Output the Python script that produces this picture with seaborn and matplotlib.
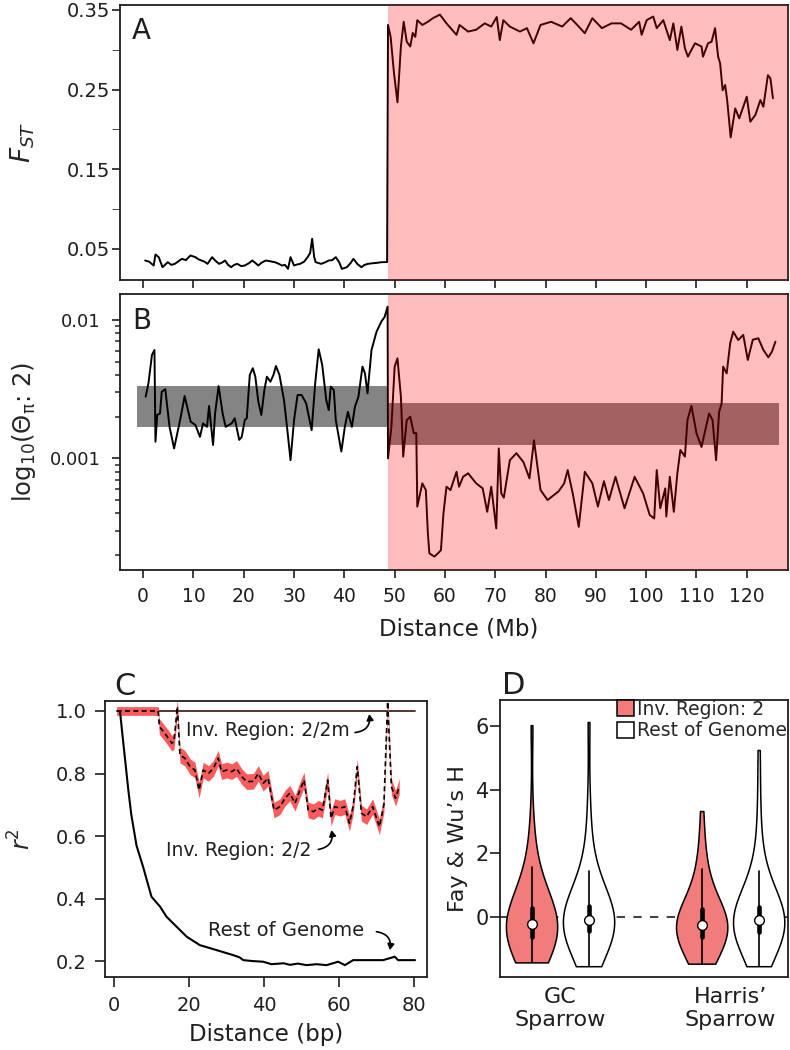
import numpy as np
import pandas as pd
import matplotlib
matplotlib.use("Agg")
import matplotlib.pyplot as plt
from matplotlib.ticker import FixedLocator, FixedFormatter, LogLocator, NullFormatter
import seaborn as sns

# ---- panel A: Fst along the chromosome ----
fst_mb = [0.4, 1.2, 2.1, 2.45, 3.1, 3.85, 4.9, 5.6, 6.3, 7.0,
          7.7, 8.5, 9.4, 10.4, 11.0, 11.6, 12.2, 12.8, 13.7, 14.4,
          15.1, 15.7, 16.3, 16.9, 17.5, 18.1, 18.7, 19.5, 20.2, 21.0,
          21.7, 22.3, 22.9, 23.6, 24.4, 25.3, 26.2, 26.9, 27.6, 28.2,
          28.8, 29.3, 30.0, 30.6, 31.2, 32.0, 32.7, 33.2, 33.6, 34.0,
          34.3, 35.4, 36.1, 36.9, 37.6, 38.3, 39.0, 39.5, 40.5, 41.2,
          41.8, 42.6, 43.4, 44.0, 44.7, 45.5, 46.4, 47.4, 48.5,
          48.68, 49.2, 49.86, 50.56, 51.24, 51.8, 52.4, 53.1, 53.6, 54.1,
          54.5, 55.5, 56.6, 57.6, 59.0, 60.3, 62.3, 62.9, 64.6, 66.2,
          67.9, 69.2, 70.3, 70.9, 71.6, 72.9, 74.9, 76.3, 77.6, 79.0,
          81.1, 83.3, 85.0, 86.3, 87.8, 89.3, 91.2, 93.1, 95.0, 97.0,
          98.6, 99.1, 100.1, 101.4, 102.1, 103.4, 104.7, 105.4, 106.2, 107.0,
          107.7, 108.3, 109.7, 111.0, 111.3, 112.3, 113.0, 113.7, 114.3, 114.7,
          115.2, 115.7, 116.1, 116.8, 117.7, 118.5, 120.0, 120.7, 121.7, 122.7,
          123.3, 124.2, 124.7, 125.2]
fst = [.0355, .0340, .0292, .0430, .0397, .0271, .0334, .0300, .0313, .0345,
       .0376, .0360, .0418, .0397, .0370, .0355, .0340, .0313, .0397, .0350,
       .0313, .0330, .0355, .0300, .0271, .0300, .0313, .0285, .0292, .0320,
       .0355, .0325, .0292, .0330, .0355, .0345, .0334, .0315, .0292, .0300,
       .0250, .0397, .0292, .0305, .0313, .0340, .0397, .0450, .0628, .0400,
       .0334, .0313, .0330, .0355, .0360, .0397, .0330, .0250, .0271, .0320,
       .0376, .0310, .0271, .0300, .0313, .0320, .0325, .0334, .0335,
       .331, .316, .271, .234, .304, .335, .310, .304, .321, .316,
       .337, .331, .335, .3395, .344, .333, .3186, .331, .3227, .325,
       .333, .329, .341, .312, .337, .329, .3227, .327, .308, .331,
       .335, .329, .3395, .331, .3207, .3395, .327, .333, .333, .325,
       .335, .3186, .337, .3416, .327, .337, .312, .333, .2997, .329,
       .3018, .2913, .308, .304, .2913, .308, .310, .327, .2913, .283,
       .249, .2557, .2368, .190, .2263, .2138, .241, .2096, .218, .2368,
       .2284, .268, .264, .239]

inv_start = 48.68

# ---- panel B: theta pi (values x 1e-3) ----
pi_mb = [0.5, 1.05, 1.75, 2.25, 2.45, 2.8, 3.35, 3.7, 4.4, 5.25,
         6.15, 7.35, 8.25, 9.45, 10.4, 11.3, 11.9, 12.7, 13.1, 13.9,
         14.3, 15.0, 15.8, 16.4, 17.6, 18.2, 19.1, 19.6, 20.2, 20.6,
         21.2, 21.8, 22.3, 22.9, 23.5, 24.1, 24.6, 25.3, 25.9, 26.4,
         27.1, 28.0, 28.6, 29.3, 30.0, 30.7, 31.5, 32.4, 33.5, 34.2,
         34.9, 35.6, 36.4, 36.9, 37.3, 37.9, 38.3, 39.4, 40.1, 40.7,
         41.5, 42.1, 42.8, 43.6, 44.1, 44.6, 45.4, 46.4, 47.4, 48.0,
         48.6, 48.68, 49.35, 50.0, 50.56, 51.24, 51.7, 52.4, 53.1, 53.8,
         54.3, 54.5, 55.5, 56.2, 56.6, 56.9, 57.9, 58.6, 59.2, 59.7,
         60.3, 61.1, 62.3, 62.8, 63.6, 64.6, 66.2, 67.5, 68.4, 69.2,
         70.2, 70.7, 71.2, 71.7, 72.9, 74.2, 75.6, 76.8, 77.7, 79.0,
         80.4, 82.6, 83.7, 84.4, 85.4, 86.6, 87.8, 89.3, 90.4, 91.6,
         92.6, 93.9, 95.7, 97.7, 99.4, 100.7, 101.6, 102.1, 102.8, 103.8,
         104.0, 104.7, 105.5, 106.2, 106.8, 107.7, 108.2, 109.0, 110.0, 111.0,
         111.9, 112.5, 113.2, 113.9, 114.5, 115.0, 115.3, 116.0, 116.7, 117.3,
         118.3, 119.3, 120.2, 121.2, 122.3, 123.3, 124.3, 125.0, 125.7]
pi_milli = [2.79, 3.48, 5.58, 6.07, 1.32, 2.06, 2.11, 3.03, 3.16, 1.69,
            1.18, 1.89, 2.82, 1.84, 1.74, 1.43, 1.79, 1.69, 2.39, 1.25,
            2.11, 3.33, 2.11, 1.69, 1.79, 1.95, 1.36, 1.43, 1.89, 1.95,
            4.00, 4.48, 3.89, 2.57, 2.06, 3.12, 3.89, 3.58, 4.00, 4.65,
            4.00, 2.64, 1.69, 0.97, 1.89, 2.87, 2.87, 2.50, 1.60, 3.48,
            6.14, 4.73, 2.64, 2.23, 3.30, 3.12, 1.89, 1.12, 1.69, 2.17,
            1.69, 2.36, 2.79, 4.60, 4.11, 2.95, 6.07, 8.23, 9.80, 10.5,
            12.5, 1.00, 1.69, 4.60, 5.28, 2.79, 1.03, 1.89, 2.00, 1.52,
            1.52, 0.448, 0.66, 0.59, 0.287, 0.206, 0.195, 0.206, 0.217, 0.40,
            0.624, 0.59, 0.80, 0.624, 0.736, 0.78, 0.66, 0.607, 0.411, 0.624,
            0.312, 1.18, 0.558, 0.52, 0.97, 1.09, 0.94, 0.716, 1.35, 0.59,
            0.50, 0.578, 0.66, 0.823, 0.558, 0.32, 0.80, 0.66, 0.448, 0.684,
            0.50, 0.736, 0.436, 0.736, 0.558, 0.39, 0.368, 0.823, 0.436, 0.607,
            0.38, 0.736, 0.411, 0.78, 1.15, 1.03, 1.89, 2.39, 1.52, 1.21,
            1.69, 2.11, 1.89, 0.97, 2.17, 2.50, 4.60, 4.11, 6.78, 8.23,
            7.16, 7.80, 5.14, 7.20, 7.37, 6.07, 5.37, 5.90, 6.97]
pi_vals = np.array(pi_milli) / 1000

# genome-wide ranges (x0, x1, low, high)
band_rest = [-1.3, inv_start, 0.00168, 0.00333]
band_inv = [inv_start, 126.5, 0.00124, 0.0025]

# ---- panel C: LD decay ----
rest_bp = [1.6, 2.2, 3.0, 3.8, 4.6, 6.0, 7.8, 10.0, 12.3, 14.0,
           16.7, 19.4, 22.9, 27.4, 31.8, 33.5, 34.5, 37.0, 39.8, 42.0,
           45.2, 47.0, 49.0, 51.4, 54.0, 56.7, 59.8, 61.6, 63.8, 71.8,
           74.9, 75.8, 80.3]
rest_r2 = [1.0, 0.93, 0.84, 0.75, 0.67, 0.57, 0.50, 0.406, 0.374, 0.342,
           0.31, 0.278, 0.251, 0.235, 0.219, 0.212, 0.203, 0.20, 0.198, 0.19,
           0.193, 0.188, 0.192, 0.187, 0.19, 0.187, 0.198, 0.187, 0.203, 0.203,
           0.214, 0.203, 0.203]

inv22_bp = [0.7, 11.8, 12.1, 13.2, 14.5, 15.4, 16.0, 16.9, 17.6, 18.9,
            20.3, 21.6, 22.7, 23.8, 25.2, 26.5, 27.8, 28.7, 30.1, 31.4,
            32.7, 34.1, 35.4, 37.2, 38.5, 39.8, 41.1, 42.7, 44.3, 45.6,
            46.9, 48.3, 49.6, 50.7, 51.8, 53.2, 54.5, 55.6, 57.0, 57.9,
            58.9, 60.3, 61.6, 62.8, 63.8, 64.9, 66.0, 67.4, 69.0, 70.8,
            72.0, 73.0, 74.0, 75.1, 76.1]
inv22_r2 = [1.0, 1.0, 0.95, 0.934, 0.913, 0.897, 0.902, 1.014, 0.859, 0.849,
            0.822, 0.811, 0.747, 0.811, 0.80, 0.816, 0.849, 0.806, 0.811, 0.806,
            0.816, 0.79, 0.774, 0.775, 0.80, 0.769, 0.785, 0.683, 0.694, 0.721,
            0.737, 0.705, 0.747, 0.779, 0.683, 0.678, 0.689, 0.683, 0.779, 0.657,
            0.694, 0.689, 0.694, 0.641, 0.694, 0.822, 0.673, 0.662, 0.694, 0.63,
            0.70, 1.03, 0.758, 0.721, 0.758]
inv22_ci = [0.014, 0.014] + [0.025] * 53

inv22m_bp = [0.7, 80.3]
inv22m_r2 = [1.0, 1.0]

# ---- panel D: Fay & Wu's H ----
species = ["GC\nSparrow", "Harris\u2019\nSparrow"]
groups = ["Inv. Region: 2", "Rest of Genome"]
h_gc_inv = [-1.43, -1.4, -1.36, -1.3, -1.24, -1.16, -1.06, -0.96, -0.85, -0.74, -0.63,
            -0.59, -0.55, -0.51, -0.47, -0.43, -0.39, -0.35, -0.31, -0.27, -0.22,
            -0.17, -0.12, -0.07, -0.02, 0.03, 0.08, 0.13, 0.18, 0.23, 0.28,
            0.42, 0.58, 0.76, 0.95, 1.15, 1.38, 1.58, 2.2, 3.1, 6.03]
h_gc_rest = [-1.55, -1.4, -1.28, -1.15, -1.03, -0.92, -0.82, -0.72, -0.62, -0.52, -0.43,
             -0.4, -0.37, -0.33, -0.3, -0.26, -0.22, -0.19, -0.15, -0.12, -0.09,
             -0.05, -0.01, 0.03, 0.07, 0.11, 0.15, 0.2, 0.24, 0.28, 0.33,
             0.48, 0.64, 0.82, 1.0, 1.2, 1.43, 1.9, 2.5, 3.6, 6.13]
h_ha_inv = [-1.47, -1.43, -1.39, -1.33, -1.26, -1.18, -1.08, -0.97, -0.86, -0.74, -0.62,
            -0.58, -0.54, -0.5, -0.46, -0.42, -0.38, -0.34, -0.3, -0.27, -0.25,
            -0.2, -0.15, -0.1, -0.05, 0.0, 0.05, 0.1, 0.15, 0.2, 0.24,
            0.38, 0.53, 0.7, 0.88, 1.08, 1.3, 1.52, 1.95, 2.5, 3.33]
h_ha_rest = [-1.55, -1.42, -1.3, -1.18, -1.06, -0.95, -0.85, -0.75, -0.65, -0.55, -0.46,
             -0.42, -0.38, -0.34, -0.3, -0.26, -0.22, -0.18, -0.15, -0.12, -0.09,
             -0.05, -0.01, 0.03, 0.07, 0.11, 0.15, 0.2, 0.24, 0.28, 0.32,
             0.48, 0.64, 0.82, 1.0, 1.2, 1.43, 1.9, 2.6, 3.7, 5.25]

rows = []
for sp, grp, vals in [(species[0], groups[0], h_gc_inv), (species[0], groups[1], h_gc_rest),
                      (species[1], groups[0], h_ha_inv), (species[1], groups[1], h_ha_rest)]:
    rows += [(sp, grp, v) for v in vals]
fw_df = pd.DataFrame(rows, columns=["species", "group", "H"])

# ---- style ----
sns.set_style("ticks")
plt.rcParams["font.family"] = ["DejaVu Sans"]
plt.rcParams["mathtext.default"] = "regular"
ink = "#1e1e1e"

fig = plt.figure(figsize=(7.9, 10.5), dpi=100)
axA = fig.add_axes([0.1519, 0.7333, 0.8456, 0.2619])
axB = fig.add_axes([0.1519, 0.4571, 0.8456, 0.2629])
axC = fig.add_axes([0.1329, 0.0695, 0.4076, 0.2629])
axD = fig.add_axes([0.6329, 0.0695, 0.3646, 0.2638])

for ax in (axA, axB, axC, axD):
    for s in ax.spines.values():
        s.set_visible(True)
        s.set_linewidth(1.3)
        s.set_color(ink)
    ax.tick_params(direction="out", width=1.2, color=ink, labelcolor=ink)

xmax_mb = 128.2

# panel A
sns.lineplot(x=fst_mb, y=fst, ax=axA, color="black", lw=1.4, estimator=None, sort=False)
axA.axvspan(inv_start, xmax_mb, color="red", alpha=0.255, lw=0, zorder=5)
axA.set_xlim(-4.6, xmax_mb)
axA.set_ylim(0.011, 0.356)
axA.set_xticks(range(0, 121, 10))
axA.set_xticklabels([])
axA.set_yticks([0.05, 0.15, 0.25, 0.35])
axA.set_yticks([0.10, 0.20, 0.30], minor=True)
axA.tick_params(axis="y", which="both", length=6, labelsize=14, pad=1)
axA.tick_params(axis="x", length=6)
axA.set_ylabel(r"$\mathit{F}_{\mathit{ST}}$", fontsize=19)
axA.yaxis.set_label_coords(-0.124, 0.5)
axA.text(0.018, 0.955, "A", transform=axA.transAxes, fontsize=20, va="top", ha="left", color=ink)

# panel B
axB.set_yscale("log")
axB.fill_between(band_rest[:2], band_rest[2], band_rest[3], color="#848484", lw=0, zorder=1)
axB.fill_between(band_inv[:2], band_inv[2], band_inv[3], color="#848484", lw=0, zorder=1)
sns.lineplot(x=pi_mb, y=pi_vals, ax=axB, color="black", lw=1.4, estimator=None, sort=False, zorder=2)
axB.axvspan(inv_start, xmax_mb, color="red", alpha=0.255, lw=0, zorder=5)
axB.set_xlim(-4.6, xmax_mb)
axB.set_ylim(1.56e-4, 0.0154)
axB.set_xticks(range(0, 121, 10))
axB.set_xticklabels([str(v) for v in range(0, 121, 10)])
axB.yaxis.set_major_locator(FixedLocator([0.001, 0.01]))
axB.yaxis.set_major_formatter(FixedFormatter(["0.001", "0.01"]))
axB.yaxis.set_minor_locator(LogLocator(base=10, subs=np.arange(2, 10)))
axB.yaxis.set_minor_formatter(NullFormatter())
axB.tick_params(axis="y", which="major", length=6, labelsize=13, pad=8)
axB.tick_params(axis="y", which="minor", length=3.5, width=1.1)
axB.tick_params(axis="x", length=6, labelsize=13.5, pad=6)
axB.set_ylabel(r"log$_{10}$($\Theta_{\pi}$: 2)", fontsize=17.5)
axB.yaxis.set_label_coords(-0.123, 0.5)
axB.set_xlabel("Distance (Mb)", fontsize=16.5, color=ink)
axB.xaxis.set_label_coords(0.507, -0.172)
axB.text(0.018, 0.952, "B", transform=axB.transAxes, fontsize=20, va="top", ha="left", color=ink)

# panel C
lo = np.array(inv22_r2) - np.array(inv22_ci)
hi = np.array(inv22_r2) + np.array(inv22_ci)
sns.lineplot(x=inv22m_bp, y=inv22m_r2, ax=axC, color="#4a2424", lw=1.3, estimator=None)
axC.fill_between(inv22_bp, lo, hi, color="#fa5c5c", lw=0, zorder=2)
sns.lineplot(x=inv22_bp, y=inv22_r2, ax=axC, color="black", lw=1.2, linestyle=(0, (3, 2)),
             estimator=None, sort=False, zorder=3)
sns.lineplot(x=rest_bp, y=rest_r2, ax=axC, color="black", lw=1.5, estimator=None, sort=False)
axC.set_xlim(-2.4, 83.5)
axC.set_ylim(0.149, 1.032)
axC.set_xticks([0, 20, 40, 60, 80])
axC.set_yticks([0.2, 0.4, 0.6, 0.8, 1.0])
axC.set_yticklabels(["0.2", "0.4", "0.6", "0.8", "1.0"])
axC.tick_params(axis="both", length=7, labelsize=14)
axC.tick_params(axis="y", pad=6)
axC.tick_params(axis="x", pad=7)
axC.set_xlabel("Distance (bp)", fontsize=16.5, color=ink)
axC.xaxis.set_label_coords(0.5, -0.165)
axC.set_ylabel(r"$\mathit{r}^2$", fontsize=17)
axC.yaxis.set_label_coords(-0.215, 0.5)
axC.text(0.03, 1.0, "C", transform=axC.transAxes, fontsize=22, va="bottom", ha="left", color=ink)

arrow = dict(arrowstyle="-|>,head_length=0.35,head_width=0.2", color="black", lw=1.2,
             shrinkA=0, shrinkB=0)
axC.text(41.1, 0.936, "Inv. Region: 2/2m", ha="center", va="center", fontsize=13.5, color=ink)
axC.annotate("", xy=(68.1, 0.990), xytext=(64.3, 0.931),
             arrowprops={**arrow, "connectionstyle": "arc3,rad=0.5"})
axC.text(33.2, 0.555, "Inv. Region: 2/2", ha="center", va="center", fontsize=13.5, color=ink)
axC.annotate("", xy=(58.0, 0.619), xytext=(54.5, 0.557),
             arrowprops={**arrow, "connectionstyle": "arc3,rad=0.5"})
axC.text(45.8, 0.299, "Rest of Genome", ha="center", va="center", fontsize=14, color=ink)
axC.annotate("", xy=(73.6, 0.235), xytext=(70.0, 0.294),
             arrowprops={**arrow, "connectionstyle": "arc3,rad=-0.5"})

# panel D
axD.axhline(0, color="#444444", lw=1.5, linestyle=(0, (4, 4)), zorder=0)
sns.violinplot(data=fw_df, x="species", y="H", hue="group", order=species, hue_order=groups,
               palette={groups[0]: "#f27c7c", groups[1]: "white"}, saturation=1,
               cut=0, density_norm="width", bw_adjust=1.45, inner="box", linewidth=1.1,
               linecolor="black", width=0.67, gap=0.1,
               inner_kws=dict(box_width=3.3, whis_width=1.2, marker="o"), ax=axD)
for ln in axD.lines:
    if ln.get_marker() == "o":
        ln.set_markersize(7)
        ln.set_markerfacecolor("white")
        ln.set_markeredgecolor("black")
        ln.set_markeredgewidth(1.0)
        ln.set_zorder(6)
axD.set_xlim(-0.353, 1.34)
axD.set_ylim(-1.89, 6.82)
axD.set_yticks([0, 2, 4, 6])
axD.tick_params(axis="y", length=7, labelsize=15, pad=1)
axD.tick_params(axis="x", length=0, labelsize=16, pad=7)
axD.set_xlabel("")
axD.set_ylabel("Fay & Wu\u2019s H", fontsize=16, color=ink)
axD.yaxis.set_label_coords(-0.111, 0.5)
sns.move_legend(axD, "upper right", bbox_to_anchor=(1.01, 1.015), frameon=False, title=None,
                fontsize=13.5, handlelength=0.9, handleheight=0.9, handletextpad=0.15,
                labelspacing=0.15, borderaxespad=0.1, borderpad=0.1)
axD.text(0.007, 1.0, "D", transform=axD.transAxes, fontsize=22, va="bottom", ha="left", color=ink)

fig.savefig("out.png", dpi=100, facecolor="white")
